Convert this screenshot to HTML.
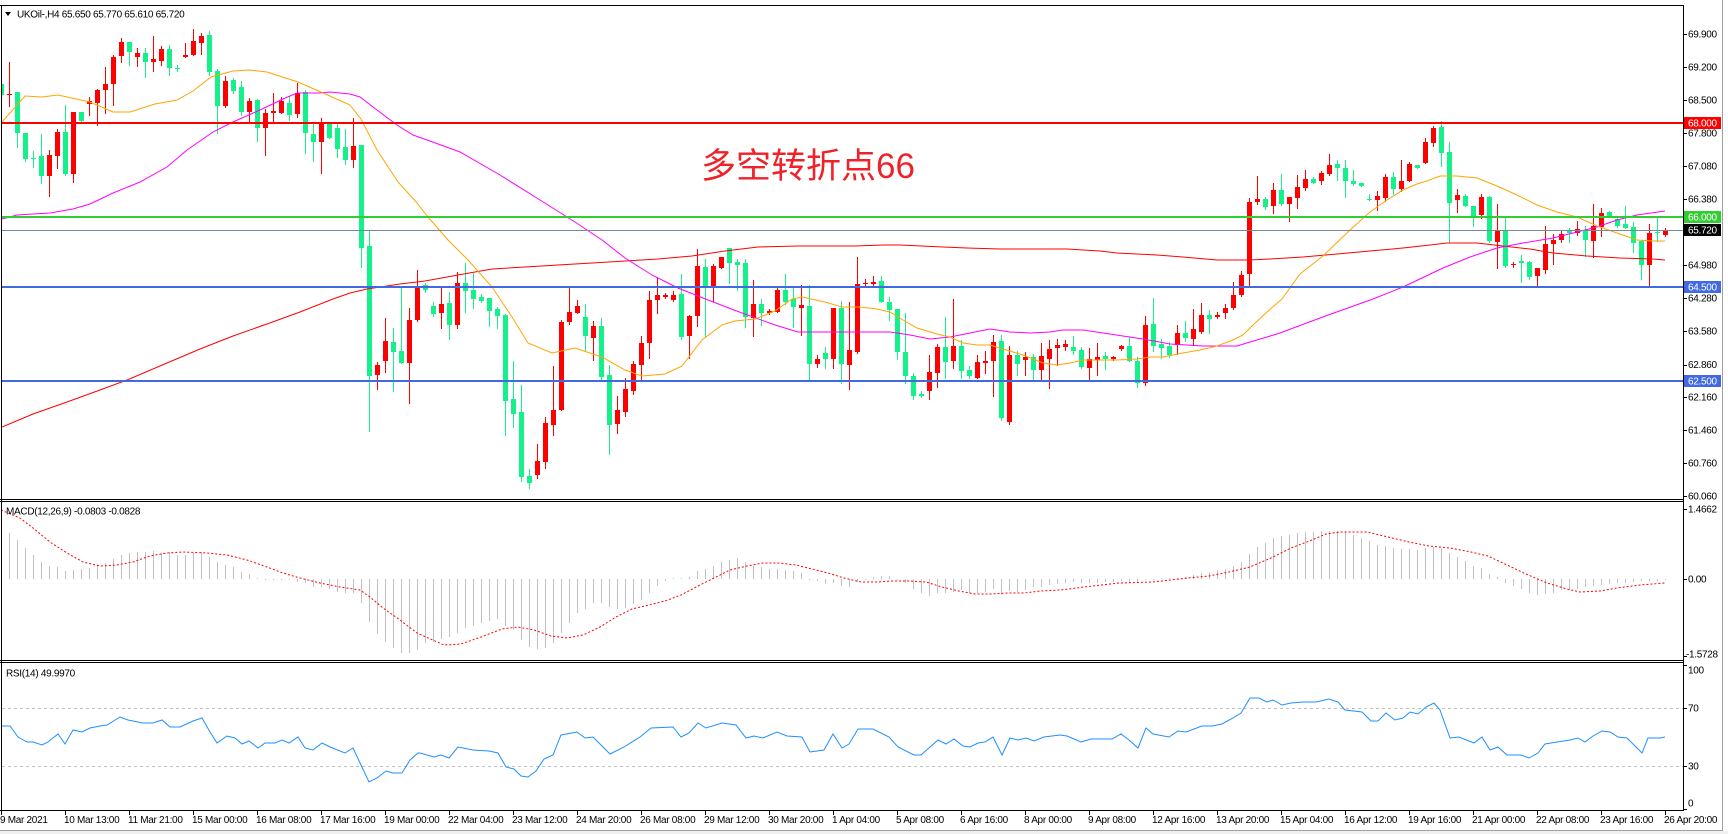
<!DOCTYPE html>
<html><head><meta charset="utf-8">
<style>
html,body{margin:0;padding:0;background:#fff;}
body{width:1728px;height:834px;overflow:hidden;}
svg{display:block;}
text{font-family:"Liberation Sans",sans-serif;font-size:10px;letter-spacing:-0.3px;fill:#000;}
</style></head>
<body>
<svg id="s" width="1728" height="834" viewBox="0 0 1728 834" xmlns="http://www.w3.org/2000/svg">
<defs>
<clipPath id="cm"><rect x="2" y="6" width="1681" height="493"/></clipPath>
<clipPath id="cd"><rect x="2" y="502" width="1681" height="158"/></clipPath>
<clipPath id="cr"><rect x="2" y="663" width="1681" height="147"/></clipPath>
</defs>
<rect width="1728" height="834" fill="#fff"/>

<!-- main chart -->
<g clip-path="url(#cm)" shape-rendering="crispEdges">
  <g id="candles"></g>
</g>
<g clip-path="url(#cm)" fill="none" stroke-width="1">
  <polyline stroke="#ff0000" points="2,427 33,414 67,402 100,390 127,380 167,363 200,349 233,336 267,324 300,312 333,299 350,293 367,289 400,284 425,281 458,275 492,269 525,267 558,265 592,263 625,261 658,259 692,256 725,251 758,247 798,246 855,246 883,245 900,245 943,247 967,248 1000,249 1067,249 1100,251 1117,253 1157,255 1183,257 1217,260 1250,260 1270,259 1303,257 1337,254 1370,251 1403,248 1430,245 1447,243 1477,243 1503,246 1530,249 1553,253 1587,256 1620,258 1653,259 1665,260"/>
  <polyline stroke="#ff00ff" points="2,219 17,215 50,213 73,209 90,204 113,193 140,182 167,167 187,150 213,132 233,122 260,110 283,99 297,93 320,93 330,92 350,94 360,97 377,110 397,125 413,135 430,141 460,152 500,175 540,200 575,222 602,240 625,258 652,275 678,288 708,300 742,313 775,325 798,332 855,332 890,332 910,335 930,339 950,337 970,333 990,329 1010,332 1030,333 1050,332 1063,330 1083,330 1103,333 1123,336 1143,339 1170,344 1203,346 1237,346 1250,342 1267,337 1280,333 1320,318 1373,299 1403,287 1443,268 1470,257 1497,248 1523,243 1553,238 1577,232 1597,227 1617,220 1637,215 1665,211"/>
  <polyline stroke="#ffa500" points="2,122 25,96 42,97 58,95 90,102 113,112 130,112 155,104 177,100 193,91 211,77 233,71 249,70 267,72 298,82 323,93 350,105 361,119 377,150 398,182 417,203 428,217 448,240 468,260 492,287 512,317 528,343 552,353 575,348 602,357 625,370 642,376 665,374 682,366 702,340 722,325 735,321 755,319 775,311 792,299 802,297 825,302 842,307 860,307 877,309 890,312 903,320 917,328 937,334 950,337 963,343 977,345 990,345 1003,349 1023,355 1043,363 1057,365 1070,363 1083,360 1117,360 1137,359 1150,357 1163,357 1183,353 1200,350 1217,346 1233,340 1243,335 1253,325 1267,312 1282,299 1300,274 1323,256 1350,230 1370,212 1387,200 1403,190 1417,184 1427,181 1440,176 1457,176 1477,178 1497,186 1517,195 1537,205 1557,212 1577,217 1597,226 1617,233 1637,240 1653,241 1665,241"/>
</g>
<g shape-rendering="crispEdges">
  <line x1="2" y1="123" x2="1683" y2="123" stroke="#ff0000" stroke-width="2"/>
  <line x1="2" y1="217" x2="1683" y2="217" stroke="#32cd32" stroke-width="2"/>
  <line x1="2" y1="230.5" x2="1683" y2="230.5" stroke="#778899" stroke-width="1"/>
  <line x1="2" y1="287" x2="1683" y2="287" stroke="#4169e1" stroke-width="2"/>
  <line x1="2" y1="381" x2="1683" y2="381" stroke="#4169e1" stroke-width="2"/>
</g>

<text x="701" y="178" style="font-family:'Liberation Sans','Noto Sans CJK SC',sans-serif;font-size:35px;letter-spacing:0;fill:#ee2228;">多空转折点66</text>

<!-- header -->
<polygon points="5,12 11,12 8,16" fill="#000"/>
<text x="17" y="17.5">UKOil-,H4  65.650 65.770 65.610 65.720</text>

<!-- MACD -->
<g clip-path="url(#cd)" shape-rendering="crispEdges">
  <g id="hist"></g>
</g>
<g clip-path="url(#cd)">
  <polyline fill="none" stroke="#ff0000" stroke-width="1" stroke-dasharray="2 2" points="1,510 20,518 33,528 50,542 67,553 83,562 100,566 117,565 133,562 150,556 167,553 183,552 207,553 227,555 247,560 267,567 283,573 300,578 320,583 340,587 360,590 370,597 383,608 400,620 417,633 444,645 461,644 481,637 502,629 518,627 534,630 551,636 567,638 583,635 600,627 616,617 632,609 649,605 665,601 681,595 698,586 714,578 730,570 747,566 763,563 779,563 796,565 812,569 828,573 844,578 861,582 877,582 893,581 910,581 926,582 942,587 959,591 975,594 991,594 1008,593 1024,593 1040,591 1060,590 1084,587 1119,583 1153,582 1188,578 1209,576 1229,572 1250,567 1271,558 1291,548 1312,540 1326,534 1340,532 1367,532 1388,537 1409,542 1429,546 1450,548 1471,552 1488,556 1505,564 1526,574 1547,583 1567,589 1580,592 1600,591 1617,588 1640,585 1665,583"/>
</g>
<text x="6" y="514.5">MACD(12,26,9) -0.0803 -0.0828</text>

<!-- RSI -->
<g shape-rendering="crispEdges">
  <line x1="2" y1="708.5" x2="1683" y2="708.5" stroke="#c0c0c0" stroke-dasharray="3 3"/>
  <line x1="2" y1="766.5" x2="1683" y2="766.5" stroke="#c0c0c0" stroke-dasharray="3 3"/>
</g>
<g clip-path="url(#cr)">
  <polyline fill="none" stroke="#1e90ff" stroke-width="1" points="0,726 10,726 18,737 27,742 33,742 42,745 48,742 58,734 65,744 73,730 82,732 90,728 100,726 107,725 120,717 128,720 143,723 153,723 162,720 170,727 180,727 193,721 202,718 210,732 217,743 227,736 235,738 242,744 249,741 258,748 265,743 275,743 282,740 289,743 298,737 305,748 313,750 322,743 330,747 345,753 353,748 361,765 369,782 377,778 386,771 393,773 402,773 410,760 418,753 420,753 434,757 441,755 449,758 458,747 473,750 489,751 498,753 506,767 514,769 521,776 528,777 536,771 544,759 553,755 561,735 577,732 585,738 593,737 610,754 624,747 640,737 651,728 673,727 681,737 689,733 698,723 706,728 722,723 736,725 746,738 754,736 763,738 777,732 787,736 802,737 810,752 824,750 833,734 842,748 849,744 858,729 873,729 889,737 898,747 914,755 921,755 938,740 946,744 954,739 963,746 970,747 978,743 985,742 993,737 1002,755 1010,738 1018,740 1026,738 1034,741 1044,737 1060,735 1067,736 1081,742 1091,739 1112,739 1121,734 1129,740 1138,748 1146,728 1153,734 1169,737 1178,731 1186,732 1202,726 1212,726 1222,724 1233,718 1241,713 1250,698 1259,698 1267,702 1273,700 1282,705 1291,703 1303,702 1316,702 1329,699 1338,702 1345,710 1362,712 1371,721 1378,721 1386,713 1395,720 1403,718 1410,712 1418,714 1426,707 1434,703 1440,710 1450,738 1459,737 1474,743 1482,737 1490,750 1498,747 1507,755 1521,755 1529,758 1538,753 1545,744 1557,742 1570,740 1578,738 1585,742 1593,736 1602,731 1610,732 1618,737 1627,738 1642,753 1648,738 1660,738 1665,737"/>
</g>
<text x="6" y="676.5">RSI(14) 49.9970</text>

<!-- frames -->
<g stroke="#000" stroke-width="1" shape-rendering="crispEdges" fill="none">
  <line x1="0" y1="5.5" x2="1684" y2="5.5"/>
  <line x1="1.5" y1="5" x2="1.5" y2="811"/>
  <line x1="0" y1="499.5" x2="1684" y2="499.5"/>
  <line x1="0" y1="501.5" x2="1684" y2="501.5"/>
  <line x1="0" y1="660.5" x2="1684" y2="660.5"/>
  <line x1="0" y1="662.5" x2="1684" y2="662.5"/>
  <line x1="0" y1="810.5" x2="1684" y2="810.5"/>
  <line x1="1683.5" y1="5" x2="1683.5" y2="811"/>
</g>
<g stroke="#a0a0a0" shape-rendering="crispEdges">
  <line x1="1722.5" y1="0" x2="1722.5" y2="831"/>
  <line x1="0" y1="830.5" x2="1723" y2="830.5"/>
</g>
<rect x="0" y="831" width="1728" height="3" fill="#f0f0f0"/>

<!-- axis ticks & labels -->
<g id="axis" stroke="#000" shape-rendering="crispEdges"></g>
<g id="axtext"></g>

<!-- colored price tags -->
<g shape-rendering="crispEdges">
  <rect x="1684" y="117" width="37" height="12" fill="#ff0000"/>
  <rect x="1684" y="211" width="37" height="12" fill="#32cd32"/>
  <rect x="1684" y="224" width="37" height="12" fill="#000"/>
  <rect x="1684" y="281" width="37" height="12" fill="#4169e1"/>
  <rect x="1684" y="375" width="37" height="12" fill="#4169e1"/>
</g>
<text x="1688" y="126.5" style="fill:#fff">68.000</text>
<text x="1688" y="220.5" style="fill:#fff">66.000</text>
<text x="1688" y="233.5" style="fill:#fff">65.720</text>
<text x="1688" y="290.5" style="fill:#fff">64.500</text>
<text x="1688" y="384.5" style="fill:#fff">62.500</text>
</svg>
<script>
(function(){
var C=[
[84,95,84,143,0],[94,94,62,106,1],[92,133,92,147,0],[133,159,133,161,0],[158,158,151,167,0],[156,176,134,183,0],[155,176,150,196,1],[132,156,129,168,1],[132,174,105,175,0],[112,174,112,182,1],
[112,121,112,121,0],[101,104,97,115,1],[90,103,89,125,1],[84,90,67,113,1],[57,84,55,105,1],[42,56,38,62,1],[42,52,42,65,0],[53,57,48,66,1],[53,62,48,77,0],[59,62,36,71,1],
[49,61,46,65,1],[49,68,45,75,0],[68,68,65,71,0],[55,57,43,57,1],[41,55,29,55,1],[36,43,33,54,1],[35,72,31,75,0],[71,106,69,133,0],[81,106,76,107,1],[80,91,78,93,0],
[87,112,81,115,0],[101,112,98,122,1],[100,128,99,141,0],[113,128,109,155,1],[111,113,93,122,1],[101,113,97,113,1],[103,115,96,120,0],[93,114,83,117,1],[92,133,90,153,0],[134,142,122,161,0],
[123,142,118,173,1],[123,138,123,138,0],[128,149,124,157,0],[147,160,129,164,0],[146,160,118,167,1],[145,248,145,267,0],[246,376,231,431,0],[365,375,362,389,1],[341,361,318,372,1],[342,352,328,391,0],
[351,363,287,363,0],[320,363,308,403,1],[287,320,270,321,1],[285,290,283,292,0],[306,314,302,316,0],[304,313,288,328,1],[303,325,292,339,0],[283,325,272,328,1],[283,291,263,312,0],[290,299,273,308,0],
[297,301,294,302,0],[298,311,298,326,0],[309,316,307,328,0],[315,401,314,435,0],[399,414,361,427,0],[412,477,385,481,0],[476,483,469,488,0],[461,475,444,478,1],[423,462,417,468,1],[410,425,366,435,1],
[322,410,320,410,1],[312,322,288,324,1],[306,313,300,313,1],[317,336,304,350,0],[326,338,321,360,1],[326,377,318,380,0],[375,425,365,454,0],[410,424,396,433,1],[389,412,378,416,1],[364,391,361,394,1],
[343,365,336,380,1],[300,343,291,358,1],[295,300,277,313,1],[295,297,293,298,1],[295,300,291,301,1],[294,337,274,339,0],[316,336,315,358,1],[266,316,249,326,1],[267,286,259,336,0],[266,286,264,301,1],
[257,268,257,268,1],[248,263,248,283,0],[262,265,259,290,0],[263,317,259,327,0],[304,318,280,336,1],[304,313,299,325,0],[311,313,309,314,1],[290,312,288,312,1],[290,302,274,304,0],[299,307,288,327,0],
[305,308,285,335,1],[306,364,285,380,0],[359,364,355,367,1],[353,359,347,368,0],[308,359,308,368,1],[308,364,301,383,0],[350,365,302,389,1],[284,352,257,353,1],[283,284,279,285,1],[282,284,276,285,1],
[281,302,276,302,0],[302,310,297,320,0],[309,352,309,359,0],[352,376,313,383,0],[376,396,373,399,0],[394,396,391,397,0],[372,391,355,399,1],[347,373,344,387,1],[347,362,317,378,0],[346,361,299,368,1],
[346,371,340,378,0],[370,376,366,378,0],[362,378,355,378,1],[361,363,351,373,1],[342,361,335,396,1],[341,418,335,420,0],[355,422,346,424,1],[355,364,351,375,0],[357,360,352,375,1],[357,370,354,379,0],
[356,370,343,379,1],[349,359,340,388,1],[345,348,339,365,1],[344,347,340,350,1],[347,351,336,354,0],[350,367,347,368,0],[359,368,348,379,1],[357,360,343,375,1],[356,359,352,369,0],[357,359,356,360,1],
[346,349,345,350,1],[346,361,337,361,0],[361,383,357,387,0],[325,383,316,385,1],[324,346,298,351,0],[344,348,339,358,0],[346,355,342,357,0],[333,345,325,354,1],[333,338,321,341,0],[329,339,309,345,1],
[315,332,303,333,1],[315,319,310,333,0],[315,317,312,318,1],[308,313,304,318,1],[295,308,282,309,1],[275,295,271,296,1],[202,274,198,286,1],[199,202,176,204,1],[199,207,197,209,0],[190,206,183,213,1],
[190,204,174,205,0],[197,204,197,221,1],[187,198,175,208,1],[179,188,170,190,1],[179,183,177,183,0],[173,181,171,184,1],[165,174,154,175,1],[164,168,160,180,0],[168,181,160,197,0],[181,184,170,185,0],
[183,186,183,186,0],[199,200,194,200,0],[196,200,191,210,1],[177,198,174,201,1],[177,189,172,194,0],[181,189,160,191,1],[164,181,162,181,1],[165,168,165,168,0],[142,163,138,163,1],[128,143,126,146,1],
[127,153,121,166,0],[152,203,142,242,0],[195,200,189,212,1],[196,206,194,206,0],[206,217,206,226,0],[197,215,194,218,1],[197,241,196,242,0],[231,242,204,268,1],[230,266,218,267,0],[264,265,262,267,1],
[261,263,255,282,0],[262,277,261,279,0],[268,276,268,286,1],[244,270,226,273,1],[240,244,234,264,1],[234,240,231,242,1],[230,233,228,242,0],[229,233,221,235,1],[230,240,226,256,0],[226,241,204,257,1],
[213,227,208,236,1],[212,216,211,216,0],[219,226,217,227,0],[224,228,206,228,0],[227,243,222,252,0],[241,265,241,279,0],[233,265,224,287,1],[232,233,217,241,0],[230,235,228,236,1]];
var H=[529,533,540,548,555,562,566,567,571,570,569,568,565,563,559,555,553,552,552,551,553,552,555,555,553,552,557,562,565,567,572,574,578,579,579,579,580,582,583,587,587,589,592,593,593,603,622,634,642,648,653,653,650,643,642,639,637,633,628,626,623,621,619,626,630,640,647,649,648,643,633,623,613,609,603,603,607,609,608,604,600,593,586,581,578,578,577,571,569,566,562,560,558,562,566,567,569,569,570,571,573,579,581,584,583,586,587,582,580,577,576,576,579,583,589,593,596,593,593,592,590,593,593,592,589,595,591,592,590,587,587,585,584,583,582,583,583,583,582,582,581,582,582,580,579,578,578,578,577,575,573,572,570,569,566,562,554,547,543,538,536,535,533,532,532,531,531,531,532,535,538,541,545,546,548,549,549,550,548,547,548,553,557,561,566,568,574,577,583,586,589,593,595,594,593,590,590,589,587,586,585,584,583,583,582,581,581,581,580];
var NS='http://www.w3.org/2000/svg';
function el(parent,tag,attrs,txt){var e=document.createElementNS(NS,tag);for(var k in attrs){e.setAttribute(k,attrs[k]);}if(txt!==undefined){e.textContent=txt;}parent.appendChild(e);return e;}
var cg=document.getElementById('candles');
var i,c,x,col,hi,lo,h;
for(i=0;i<C.length;i++){c=C[i];x=1+8*i;col=c[4]?'#ff0000':'#14f08a';
 hi=Math.min(c[2],c[0]);lo=Math.max(c[3],c[1]);
 el(cg,'line',{x1:x+0.5,y1:hi,x2:x+0.5,y2:lo+1,stroke:col});
 h=Math.max(c[1]-c[0],1);
 el(cg,'rect',{x:x-2,y:c[0],width:5,height:h,fill:col});}
var hg=document.getElementById('hist');
for(i=0;i<H.length;i++){x=1+8*i+0.5;var y=H[i];if(Math.abs(y-579)<1){y=580;}
 el(hg,'line',{x1:x,y1:579,x2:x,y2:y,stroke:'#c0c0c0'});}
var ax=document.getElementById('axis'),tx=document.getElementById('axtext');
var P=[[69.900,34],[69.200,67],[68.500,100],[67.800,133],[67.080,166],[66.380,199],[64.980,265],[64.280,298],[63.580,331],[62.860,364.5],[62.160,397],[61.460,430],[60.760,463],[60.060,496]];
for(i=0;i<P.length;i++){var yy=Math.round(P[i][1])+0.5;el(ax,'line',{x1:1683,y1:yy,x2:1687,y2:yy});
 el(tx,'text',{x:1688,y:P[i][1]+3.5},P[i][0].toFixed(3));}
[123,217,230,287,381].forEach(function(v){el(ax,'line',{x1:1683,y1:v+0.5,x2:1687,y2:v+0.5});});
var M=[['1.4662',509,509],['0.00',579,579],['-1.5728',654,656]];
M.forEach(function(m){el(ax,'line',{x1:1683,y1:m[2]+0.5,x2:1687,y2:m[2]+0.5});el(tx,'text',{x:(m[0].charAt(0)=='-'?1686:1688),y:m[1]+3.5},m[0]);});
var R=[['100',670,665],['70',708,708],['30',766,766],['0',803,809]];
R.forEach(function(m){el(ax,'line',{x1:1683,y1:m[2]+0.5,x2:1687,y2:m[2]+0.5});el(tx,'text',{x:1688,y:m[1]+3.5},m[0]);});
var D=["9 Mar 2021","10 Mar 13:00","11 Mar 21:00","15 Mar 00:00","16 Mar 08:00","17 Mar 16:00","19 Mar 00:00","22 Mar 04:00","23 Mar 12:00","24 Mar 20:00","26 Mar 08:00","29 Mar 12:00","30 Mar 20:00","1 Apr 04:00","5 Apr 08:00","6 Apr 16:00","8 Apr 00:00","9 Apr 08:00","12 Apr 16:00","13 Apr 20:00","15 Apr 04:00","16 Apr 12:00","19 Apr 16:00","21 Apr 00:00","22 Apr 08:00","23 Apr 16:00","26 Apr 20:00"];
for(i=0;i<D.length;i++){x=1+64*i;el(ax,'line',{x1:x+0.5,y1:810,x2:x+0.5,y2:815});
 el(tx,'text',{x:Math.max(x-1,0),y:823},D[i]);}
})();
</script>
</body></html>
